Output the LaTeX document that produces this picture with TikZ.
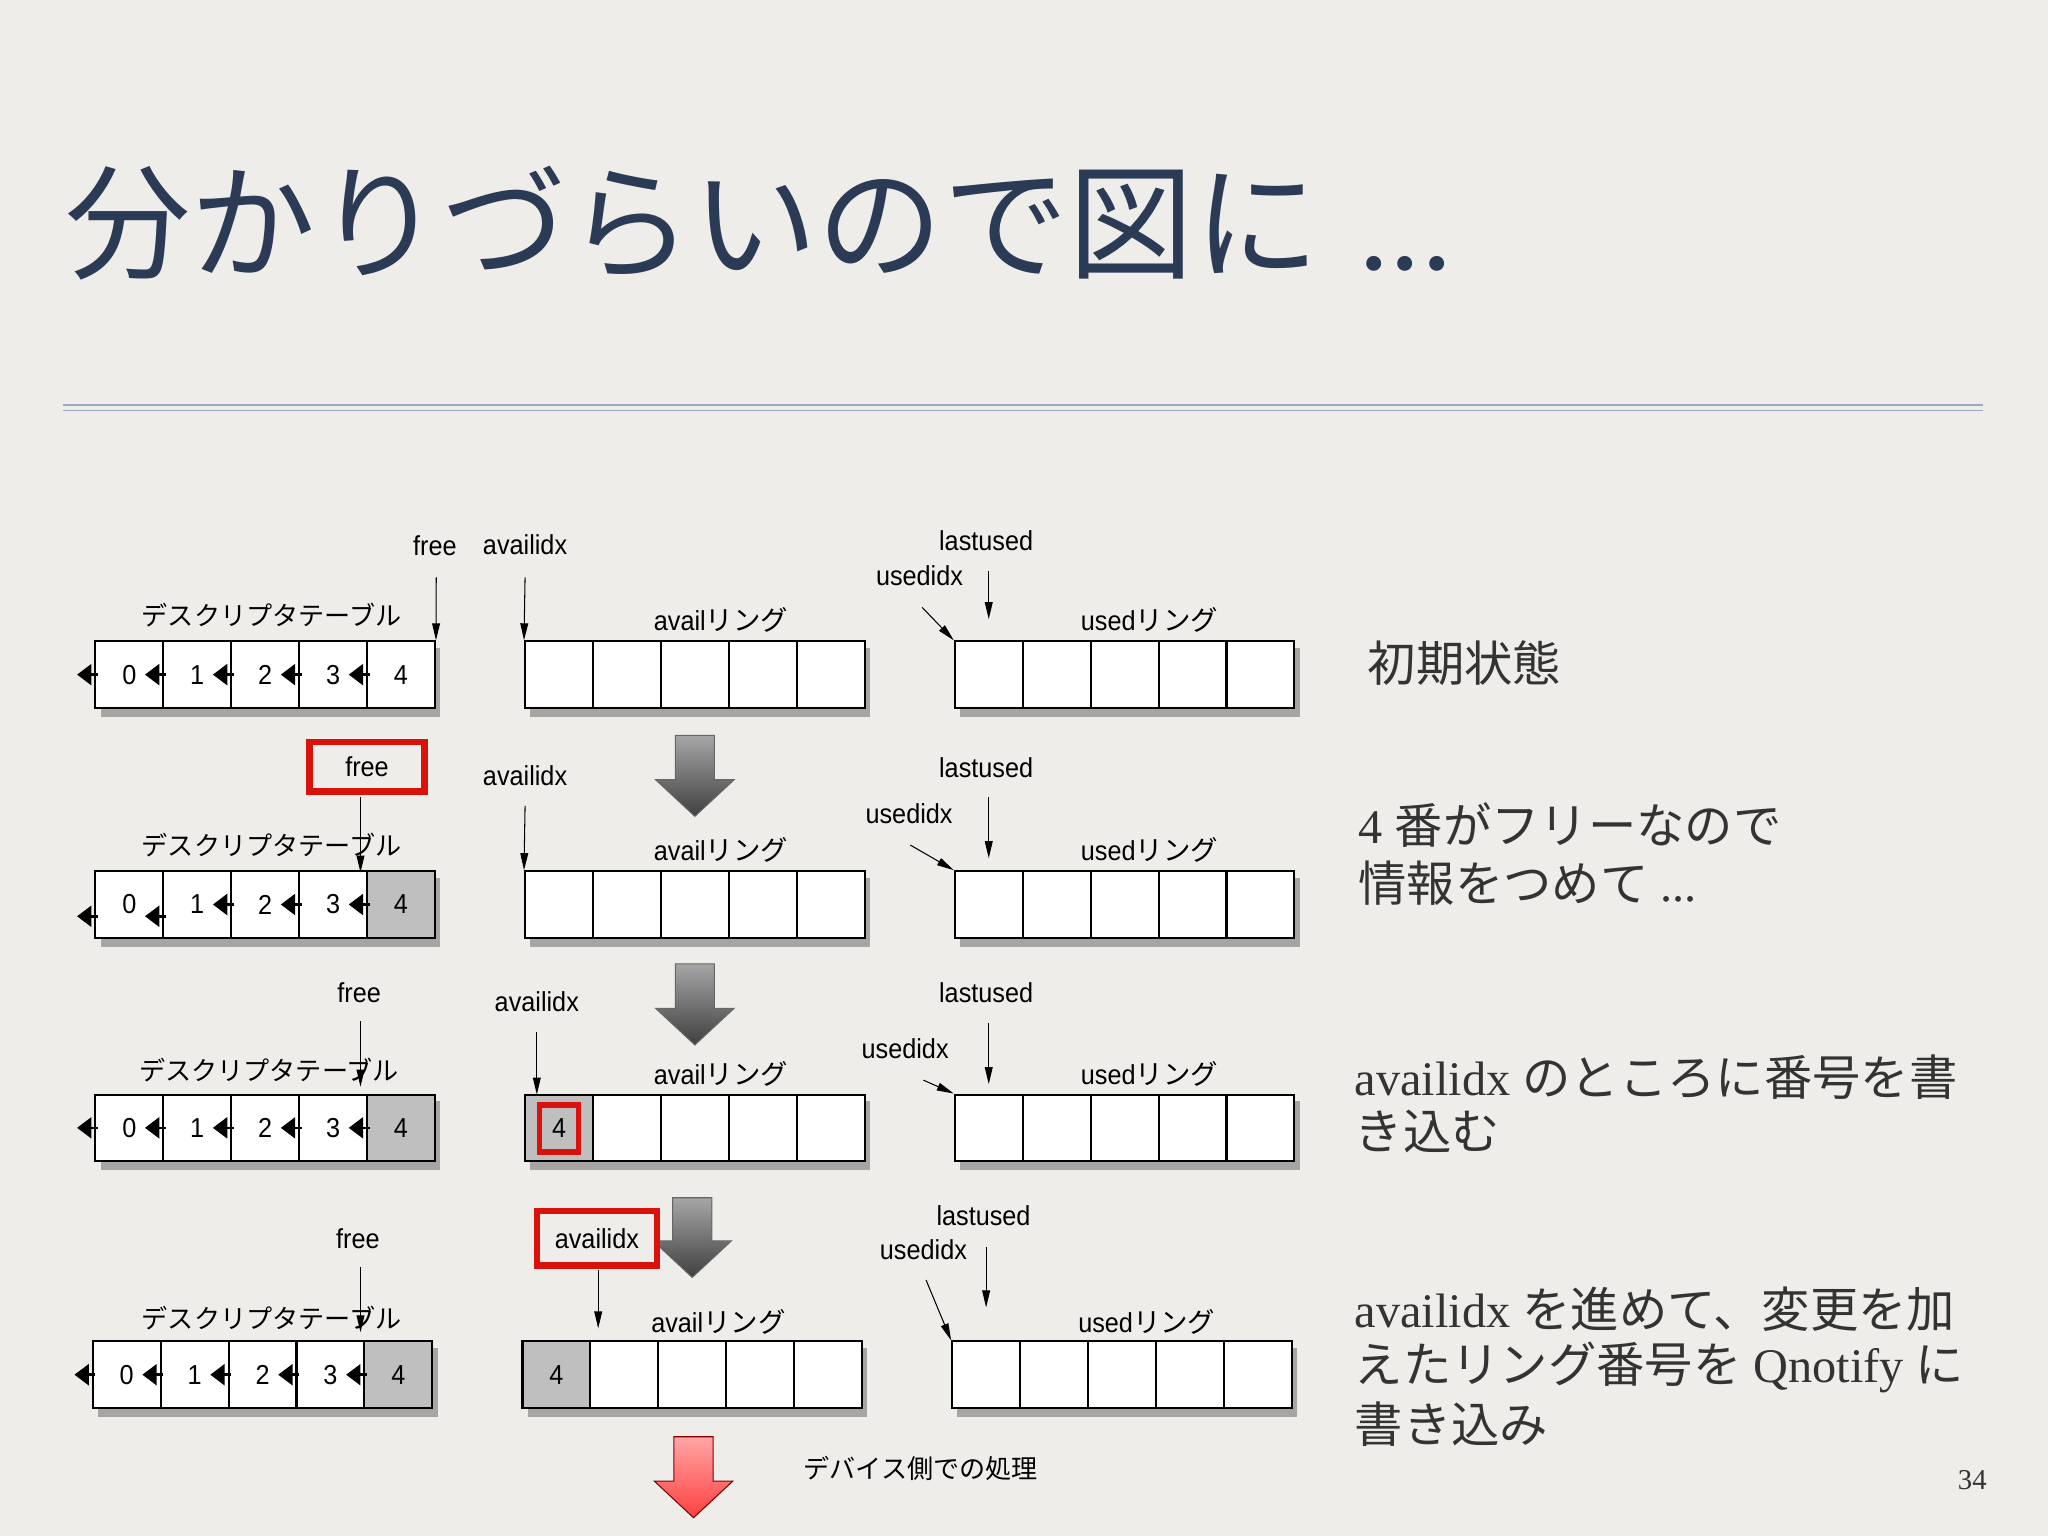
\documentclass[tikz,border=0pt]{standalone}
\usepackage{fontspec}
\setmainfont{Liberation Serif}
\newfontfamily\jp{Noto Sans CJK JP}
\newfontfamily\lab[FakeStretch=0.92]{Liberation Sans}
\usetikzlibrary{arrows.meta}
\definecolor{bg}{HTML}{EFEDEA}
\definecolor{navy}{HTML}{2B3A55}
\definecolor{rulec}{HTML}{9AAAC4}
\definecolor{txt}{HTML}{333333}
\definecolor{redb}{HTML}{D9120C}
\tikzset{
 cell/.style={draw=black,line width=1.6pt,fill=white,minimum width=52pt,minimum height=51pt,inner sep=0pt,anchor=center},
 graycell/.style={cell,fill=black!25},
 lbl/.style={font=\lab\fontsize{21}{22}\selectfont,inner sep=1pt},
 num/.style={font=\lab\fontsize{21}{22}\selectfont,inner sep=0pt},
 ptr/.style={draw=black,line width=0.8pt,-{Triangle[length=13pt,width=6pt]}},
 harr/.style={draw=black,line width=2pt,-{Triangle[length=11pt,width=16pt]}},
 redbox/.style={draw=redb,line width=5pt,inner sep=6pt},
 desc/.style={font=\fontsize{37}{40}\selectfont,text=txt,anchor=west,inner sep=0pt},
}
\newcommand\ring[3]{%
 \fill[black,opacity=0.3] (#2+4,#3+5) rectangle (#2+264,#3+58);
 \foreach \i in {1,...,5}{\node[cell] (#1\i) at ({#2+26+52*(\i-1)},{#3+25.5}) {};}}
\newcommand\descnums[2]{% name, ytop
 \foreach \i/\n in {1/0,2/1,3/2,4/3,5/4}{\node[num] (#1n\i) at (#1\i) {\n};
  \draw[harr] ([xshift=-24pt]#1\i.center) -- ([xshift=-40pt]#1\i.center);}}
\begin{document}
\begin{tikzpicture}[x=1pt,y=-1pt]
\fill[bg] (0,0) rectangle (1568,1176);
\useasboundingbox (0,0) rectangle (1568,1176);
% title
\node[anchor=base west,text=navy,inner sep=0pt,font=\jp\fontsize{96}{100}\selectfont] (title) at (50,206) {分かりづらいので図に\hspace{30pt}{\rmfamily ...}};
\draw[rulec,line width=1pt] (48,310) -- (1518,310);
\draw[rulec,line width=1pt] (48,314.5) -- (1518,314.5);
% ---------- row 1
\ring{da}{73}{491}\descnums{da}{491}
\ring{aa}{402}{491}\ring{ua}{731}{491}
\node[lbl,font=\jp\fontsize{20}{22}\selectfont] (dta) at (208,471) {デスクリプタテーブル};
\node[lbl] (ara) at (552,475) {avail{\jp リング}};
\node[lbl] (ura) at (880,475) {used{\jp リング}};
\node[lbl] (fra) at (333,418) {free};
\node[lbl] (aia) at (402,417) {availidx};
\node[lbl] (lua) at (755,414) {lastused};
\node[lbl] (uia) at (704,441) {usedidx};
\draw[ptr] (334,442) -- (da5.north east);
\draw[ptr] (402,442) -- (aa1.north west);
\coordinate (lta) at (757,474);
\draw[ptr] (757,437) -- (lta);
\draw[ptr] (706,465) -- (ua1.north west);
\node[desc] (t1) at (1047,508) {\jp 初期状態};
% ---------- row 2
\ring{db}{73}{667}
\node[graycell] (db5b) at (db5) {};
\foreach \i/\n in {1/0,2/1,3/2,4/3,5/4}{\node[num] (dbn\i) at (db\i) {\n};}
\draw[harr] ([xshift=-24pt,yshift=-9pt]db1.center) -- ([xshift=-40pt,yshift=-9pt]db1.center);
\draw[harr] ([xshift=-24pt,yshift=-9pt]db2.center) -- ([xshift=-40pt,yshift=-9pt]db2.center);
\foreach \i in {3,4,5}{\draw[harr] ([xshift=-24pt]db\i.center) -- ([xshift=-40pt]db\i.center);}
\ring{ab}{402}{667}\ring{ub}{731}{667}
\node[lbl,font=\jp\fontsize{20}{22}\selectfont] (dtb) at (208,647) {デスクリプタテーブル};
\node[lbl] (arb) at (552,651) {avail{\jp リング}};
\node[lbl] (urb) at (880,651) {used{\jp リング}};
\node[lbl,redbox,minimum width=88pt,minimum height=38pt] (frb) at (281,587) {free};
\node[lbl] (aib) at (402,594) {availidx};
\node[lbl] (lub) at (755,588) {lastused};
\node[lbl] (uib) at (696,623) {usedidx};
\draw[ptr] (276,610) -- (276,668);
\draw[ptr] (402,617) -- (ab1.north west);
\coordinate (ltb) at (757,657);
\draw[ptr] (757,610) -- (ltb);
\draw[ptr] (697,647) -- (ub1.north west);
\shade[top color=black!35,bottom color=black!75,draw=black!60,line width=0.8pt] (517,563) -- (547,563) -- (547,597) -- (562,597) -- (532,625) -- (502,597) -- (517,597) -- cycle;
\node[desc] (t2a) at (1040,632) {4 {\jp 番がフリーなので}};
\node[desc] (t2b) at (1040,676) {{\jp 情報をつめて} ...};
% ---------- row 3
\ring{dc}{73}{838}
\node[graycell] (dc5b) at (dc5) {};
\descnums{dc}{838}
\ring{ac}{402}{838}\ring{uc}{731}{838}
\node[graycell] (ac1b) at (ac1) {};
\node[draw=redb,line width=4pt,minimum width=30pt,minimum height=36pt,inner sep=0pt,num] (ac1r) at (428,864) {4};
\node[lbl,font=\jp\fontsize{20}{22}\selectfont] (dtc) at (206,819) {デスクリプタテーブル};
\node[lbl] (arc) at (552,822) {avail{\jp リング}};
\node[lbl] (urc) at (880,822) {used{\jp リング}};
\node[lbl] (frc) at (275,760) {free};
\node[lbl] (aic) at (411,767) {availidx};
\node[lbl] (luc) at (755,760) {lastused};
\node[lbl] (uic) at (693,803) {usedidx};
\draw[ptr] (276,782) -- (276,832);
\draw[ptr] (411,790) -- (411,838);
\coordinate (ltc) at (757,830);
\draw[ptr] (757,783) -- (ltc);
\draw[ptr] (707,827) -- (uc1.north west);
\shade[top color=black!35,bottom color=black!75,draw=black!60,line width=0.8pt] (517,738) -- (547,738) -- (547,772) -- (562,772) -- (532,800) -- (502,772) -- (517,772) -- cycle;
\node[desc] (t3a) at (1037,825) {availidx {\jp のところに番号を書}};
\node[desc] (t3b) at (1037,866) {\jp き込む};
% ---------- row 4
\ring{dd}{71}{1027}
\node[graycell] (dd5b) at (dd5) {};
\descnums{dd}{1027}
\ring{ad}{400}{1027}\ring{ud}{729}{1027}
\node[graycell] (ad1b) at (ad1) {};
\node[num] (ad1n) at (ad1) {4};
\node[lbl,font=\jp\fontsize{20}{22}\selectfont] (dtd) at (208,1009) {デスクリプタテーブル};
\node[lbl] (ard) at (550,1012) {avail{\jp リング}};
\node[lbl] (urd) at (878,1012) {used{\jp リング}};
\node[lbl] (frd) at (274,948) {free};
\shade[top color=black!35,bottom color=black!75,draw=black!60,line width=0.8pt] (515,917) -- (545,917) -- (545,950) -- (560,950) -- (530,978) -- (500,950) -- (515,950) -- cycle;
\node[lbl,redbox,fill=bg,minimum width=92pt,minimum height=42pt] (aid) at (457,948) {availidx};
\node[lbl] (lud) at (753,931) {lastused};
\node[lbl] (uid) at (707,957) {usedidx};
\draw[ptr] (276,970) -- (276,1020);
\draw[ptr] (458,972) -- (458,1017);
\coordinate (ltd) at (755,1001);
\draw[ptr] (755,955) -- (ltd);
\draw[ptr] (709,980) -- (ud1.north west);
\node[desc] (t4a) at (1037,1002) {availidx {\jp を進めて、変更を加}};
\node[desc] (t4b) at (1037,1047) {{\jp えたリング番号を} Qnotify {\jp に}};
\node[desc] (t4c) at (1037,1090) {\jp 書き込み};
% device arrow
\shade[top color=red!35!white,bottom color=red!75!white,draw=red!50!black,line width=0.8pt] (516,1100) -- (546,1100) -- (546,1134) -- (561,1134) -- (531,1162) -- (501,1134) -- (516,1134) -- cycle;
\node[lbl,font=\jp\fontsize{20}{22}\selectfont] (dev) at (705,1124) {デバイス側での処理};
\node[font=\fontsize{22}{24}\selectfont,text=txt] (pg) at (1510,1133) {34};
\end{tikzpicture}
\end{document}
